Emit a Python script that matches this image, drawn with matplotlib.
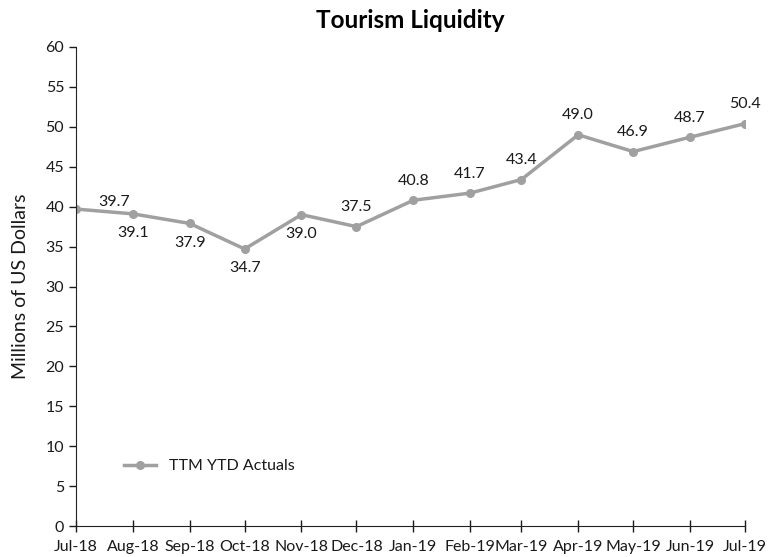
import matplotlib
matplotlib.use("Agg")
import matplotlib.pyplot as plt
import datetime as dt

plt.rcParams['font.family'] = ['Lato', 'DejaVu Sans']

months = ["Jul-18", "Aug-18", "Sep-18", "Oct-18", "Nov-18", "Dec-18", "Jan-19",
          "Feb-19", "Mar-19", "Apr-19", "May-19", "Jun-19", "Jul-19"]
values = [39.7, 39.1, 37.9, 34.7, 39.0, 37.5, 40.8, 41.7, 43.4, 49.0, 46.9, 48.7, 50.4]
label_pos = ["right", "below", "below", "below", "below", "above", "above",
             "above", "above", "above", "above", "above", "above"]

dates = [dt.datetime.strptime(m, "%b-%y") for m in months]

fig = plt.figure(figsize=(7.78, 5.57), dpi=100)
ax = fig.add_axes([76/778, 31/557, (745-76)/778, (526-47)/557])

color = "#a0a0a0"
ax.plot(dates, values, color=color, lw=2.5, marker="o", ms=5.5, label="TTM YTD Actuals")

txt = "#1a1a1a"
for d, v, p in zip(dates, values, label_pos):
    if p == "above":
        ax.annotate(f"{v:.1f}", (d, v), xytext=(0, 9), textcoords="offset points",
                    ha="center", va="bottom", fontsize=11.5, color=txt)
    elif p == "below":
        ax.annotate(f"{v:.1f}", (d, v), xytext=(0, -9), textcoords="offset points",
                    ha="center", va="top", fontsize=11.5, color=txt)
    else:
        ax.annotate(f"{v:.1f}", (d, v), xytext=(16, 5), textcoords="offset points",
                    ha="left", va="center", fontsize=11.5, color=txt)

ax.set_xlim(dates[0], dates[-1])
ax.set_ylim(0, 60)
ax.set_yticks(range(0, 61, 5))
ax.set_xticks(dates)
ax.set_xticklabels(months)
ax.tick_params(axis="both", labelsize=11.5, colors=txt, length=5, width=1)
ax.tick_params(axis="x", direction="inout", length=8, pad=6)
ax.tick_params(axis="y", direction="out", length=5)
for s in ["top", "right"]:
    ax.spines[s].set_visible(False)
for s in ["left", "bottom"]:
    ax.spines[s].set_color("#222222")

ax.set_ylabel("Millions of US Dollars", fontsize=14, color=txt, labelpad=12)
fig.text((76+745)/2/778, 1 - 20/557, "Tourism Liquidity", ha="center", va="center",
         fontsize=17.5, fontweight="bold")

ax.legend(loc="lower left", bbox_to_anchor=(0.05, 0.08), frameon=False, fontsize=11.5,
          handlelength=2, labelcolor=txt)

fig.savefig("out.png", dpi=100)
